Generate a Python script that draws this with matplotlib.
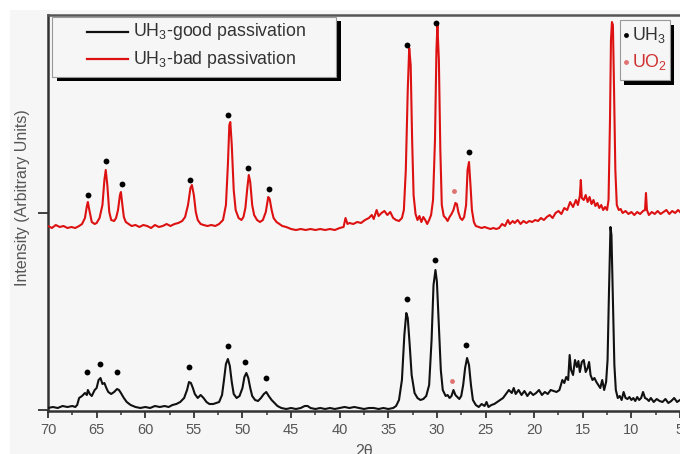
import matplotlib
matplotlib.use("Agg")
import matplotlib.pyplot as plt
from matplotlib.patches import Rectangle
from matplotlib.lines import Line2D
from matplotlib.ticker import MultipleLocator

plt.rcParams['font.family'] = ['Liberation Sans', 'DejaVu Sans']
plt.rcParams['mathtext.fontset'] = 'custom'
plt.rcParams['mathtext.rm'] = 'Liberation Sans'
plt.rcParams['mathtext.it'] = 'Liberation Sans:italic'
plt.rcParams['mathtext.bf'] = 'Liberation Sans:bold'

# ---------------- data (2theta, intensity in arbitrary units) ----------------
red_tt = [
    70.0, 69.6, 69.2, 68.8, 68.4, 68.0, 67.6, 67.2, 66.8, 66.5,
    66.2, 66.0, 65.9, 65.75, 65.5, 65.2, 65.0, 64.7, 64.4, 64.2,
    64.06, 63.9, 63.7, 63.5, 63.2, 63.0, 62.8, 62.6, 62.5, 62.35,
    62.2, 62.0, 61.7, 61.4, 61.0, 60.6, 60.2, 59.8, 59.4, 59.0,
    58.6, 58.2, 57.8, 57.4, 57.0, 56.6, 56.2, 55.9, 55.6, 55.35,
    55.2, 55.0, 54.8, 54.6, 54.3, 54.0, 53.6, 53.2, 52.8, 52.4,
    52.0, 51.7, 51.5, 51.35, 51.25, 51.1, 50.9, 50.7, 50.4, 50.1,
    49.9, 49.7, 49.5, 49.35, 49.2, 49.0, 48.8, 48.5, 48.2, 47.9,
    47.6, 47.35, 47.2, 47.0, 46.8, 46.5, 46.2, 45.9, 45.5, 45.0,
    44.5, 44.0, 43.5, 43.0, 42.5, 42.0, 41.5, 41.0, 40.5, 40.0,
    39.6, 39.4, 39.2, 39.0, 38.6, 38.2, 37.8, 37.4, 37.0, 36.7,
    36.5, 36.2, 36.0, 35.7, 35.4, 35.1, 34.8, 34.5, 34.2, 33.9,
    33.6, 33.4, 33.2, 33.0, 32.85, 32.7, 32.55, 32.4, 32.2, 32.0,
    31.8, 31.6, 31.4, 31.2, 31.0, 30.8, 30.6, 30.4, 30.2, 30.05,
    29.95, 29.8, 29.65, 29.5, 29.3, 29.1, 28.9, 28.7, 28.5, 28.3,
    28.1, 27.95, 27.8, 27.6, 27.4, 27.2, 27.0, 26.85, 26.7, 26.55,
    26.4, 26.2, 26.0, 25.7, 25.4, 25.1, 24.8, 24.5, 24.2, 23.9,
    23.6, 23.3, 23.0, 22.7, 22.5, 22.2, 22.0, 21.7, 21.4, 21.1,
    20.8, 20.5, 20.2, 19.9, 19.6, 19.3, 19.0, 18.7, 18.4, 18.1,
    17.8, 17.5, 17.2, 16.9, 16.6, 16.3, 16.0, 15.7, 15.5, 15.3,
    15.2, 15.1, 14.9, 14.7, 14.5, 14.3, 14.1, 13.9, 13.7, 13.5,
    13.3, 13.1, 12.9, 12.7, 12.5, 12.35, 12.2, 12.1, 12.0, 11.9,
    11.8, 11.65, 11.5, 11.3, 11.1, 10.9, 10.6, 10.3, 10.0, 9.7,
    9.4, 9.1, 8.8, 8.6, 8.5, 8.4, 8.2, 7.9, 7.6, 7.3,
    7.0, 6.7, 6.4, 6.1, 5.8, 5.5, 5.2, 5.0]
red_int = [
    184, 182, 185, 183, 184, 182, 183, 182, 184, 186,
    192, 204, 208, 200, 188, 186, 187, 192, 205, 230,
    240, 225, 198, 190, 189, 192, 200, 215, 218, 205,
    193, 188, 186, 184, 185, 183, 185, 184, 182, 185,
    183, 184, 186, 184, 186, 187, 189, 193, 205, 222,
    225, 215, 198, 190, 186, 185, 184, 185, 184, 186,
    190, 205, 245, 285, 288, 265, 220, 200, 192, 190,
    193, 202, 222, 235, 228, 205, 195, 190, 188, 190,
    198, 213, 211, 200, 192, 188, 186, 184, 183, 181,
    180, 181, 180, 181, 180, 181, 180, 181, 180, 182,
    183, 192, 186, 187, 186, 188, 187, 190, 192, 195,
    191, 200, 194, 197, 199, 195, 198, 192, 190, 189,
    192, 200, 240, 320, 362, 345, 270, 215, 196, 190,
    194, 188, 193, 190, 186, 190, 195, 210, 270, 360,
    385, 350, 260, 205, 194, 192, 189, 193, 196, 200,
    207, 206, 198, 192, 190, 193, 205, 240, 248, 225,
    200, 188, 184, 183, 182, 183, 182, 181, 182, 181,
    182, 186, 184, 190, 186, 189, 187, 190, 186, 189,
    187, 189, 188, 190, 189, 192, 190, 193, 195, 192,
    197, 199, 196, 202, 200, 208, 203, 210, 205, 214,
    230, 212, 210, 215, 208, 213, 206, 210, 204, 207,
    202, 205, 200, 203, 200, 210, 290, 370, 388, 385,
    330, 240, 205, 200, 201, 197, 199, 196, 198, 195,
    198, 196, 199, 200, 217, 200, 195, 198, 196, 199,
    196, 198, 200, 196, 199, 197, 200, 198]

blk_tt = [
    70.0, 69.5, 69.0, 68.5, 68.0, 67.5, 67.2, 67.0, 66.8, 66.5,
    66.2, 66.0, 65.9, 65.7, 65.5, 65.2, 65.0, 64.8, 64.6, 64.4,
    64.2, 64.0, 63.8, 63.5, 63.2, 62.9, 62.7, 62.5, 62.2, 61.9,
    61.5, 61.0, 60.5, 60.0, 59.5, 59.0, 58.5, 58.0, 57.6, 57.2,
    56.8, 56.4, 56.0, 55.7, 55.5, 55.3, 55.1, 54.9, 54.6, 54.3,
    54.0, 53.7, 53.4, 53.0, 52.7, 52.4, 52.1, 51.9, 51.7, 51.5,
    51.3, 51.1, 50.9, 50.6, 50.3, 50.0, 49.8, 49.6, 49.4, 49.2,
    49.0, 48.7, 48.4, 48.1, 47.8, 47.55, 47.3, 47.0, 46.7, 46.4,
    46.0, 45.5, 45.0, 44.5, 44.0, 43.6, 43.3, 43.0, 42.5, 42.0,
    41.5, 41.0, 40.5, 40.0, 39.5, 39.0, 38.5, 38.0, 37.5, 37.0,
    36.5, 36.0, 35.5, 35.0, 34.5, 34.2, 33.9, 33.6, 33.35, 33.15,
    33.0, 32.8, 32.6, 32.3, 32.0, 31.7, 31.4, 31.1, 30.8, 30.55,
    30.35, 30.15, 30.0, 29.8, 29.6, 29.4, 29.1, 28.9, 28.7, 28.5,
    28.3, 28.1, 27.9, 27.7, 27.5, 27.3, 27.1, 26.9, 26.7, 26.5,
    26.3, 26.0, 25.7, 25.4, 25.1, 24.9, 24.7, 24.4, 24.1, 23.8,
    23.5, 23.2, 22.9, 22.6, 22.3, 22.1, 21.9, 21.6, 21.3, 21.0,
    20.7, 20.4, 20.1, 19.8, 19.5, 19.2, 18.9, 18.6, 18.3, 18.0,
    17.7, 17.4, 17.1, 16.9, 16.7, 16.5, 16.35, 16.2, 16.0, 15.8,
    15.6, 15.45, 15.3, 15.1, 14.9, 14.7, 14.5, 14.35, 14.2, 14.0,
    13.8, 13.6, 13.4, 13.2, 13.0, 12.8, 12.6, 12.45, 12.3, 12.15,
    12.05, 11.9, 11.75, 11.6, 11.4, 11.2, 11.0, 10.8, 10.6, 10.4,
    10.2, 10.0, 9.8, 9.6, 9.4, 9.2, 9.0, 8.8, 8.6, 8.4,
    8.2, 8.0, 7.7, 7.4, 7.1, 6.8, 6.5, 6.2, 5.9, 5.6,
    5.3, 5.0]
blk_int = [
    2, 3, 2, 4, 3, 4, 3, 5, 12, 14,
    17, 15, 20, 16, 14, 20, 22, 30, 32, 26,
    27, 22, 18, 16, 18, 21, 20, 17, 12, 8,
    5, 3, 2, 3, 2, 4, 3, 4, 3, 5,
    6, 8, 12, 20, 28, 27, 22, 16, 12, 15,
    12, 8, 6, 6, 7, 8, 15, 30, 46, 51,
    44, 28, 16, 12, 14, 22, 33, 37, 32, 22,
    14, 10, 9, 12, 16, 18, 14, 10, 7, 4,
    2, 1, 2, 1, 2, 4, 4, 2, 1, 2,
    1, 2, 1, 2, 3, 2, 3, 2, 1, 2,
    2, 1, 2, 1, 2, 4, 10, 30, 75, 97,
    92, 65, 35, 17, 12, 10, 11, 14, 25, 70,
    125, 140, 128, 85, 40, 20, 14, 15, 12, 14,
    20, 15, 13, 11, 14, 25, 42, 52, 45, 25,
    10, 5, 3, 6, 4, 8, 3, 5, 6, 8,
    10, 12, 16, 20, 17, 22, 16, 20, 15, 19,
    14, 18, 15, 17, 20, 15, 18, 16, 20, 19,
    18, 20, 30, 27, 33, 30, 55, 40, 35, 50,
    43, 49, 38, 48, 50, 38, 42, 48, 35, 30,
    32, 28, 25, 22, 30, 20, 28, 50, 120, 183,
    175, 110, 45, 20, 12, 14, 10, 18, 12, 11,
    13, 10, 12, 9, 13, 10, 12, 18, 12, 11,
    9, 12, 8, 11, 9, 8, 11, 7, 9, 12,
    8, 10]

# peak markers (UH3 = black dots, UO2 = pink dots)
uh3_red_tt = [65.85, 64.03, 62.4, 55.4, 51.45, 49.4, 47.26, 33.07, 30.1, 26.7]
uh3_red_int = [215, 249, 226, 230, 295, 242, 221, 365, 387, 258]
uh3_blk_tt = [66.0, 64.65, 62.9, 55.5, 51.5, 49.7, 47.6, 33.1, 30.2, 27.0]
uh3_blk_int = [38, 46, 38, 43, 64, 48, 32, 111, 150, 65]
uo2_tt = [28.2, 28.5]
uo2_int = [219, 29]

series_labels = ['UH$_3$-good passivation', 'UH$_3$-bad passivation']
phase_labels = ['UH$_3$', 'UO$_2$']
x_ticks = [70, 65, 60, 55, 50, 45, 40, 35, 30, 25, 20, 15, 10, 5]

# ---------------- figure ----------------
W, H = 680, 454
fig = plt.figure(figsize=(W / 100, H / 100), dpi=100, facecolor='white')
BG = '#f6f6f6'
fig.patches.append(Rectangle((10 / W, 0), 1, 1 - 10 / H, transform=fig.transFigure,
                             facecolor=BG, edgecolor='none', zorder=-10))

def fx(px):
    return px / W

def fy(py):
    return 1 - py / H

ax = fig.add_axes([fx(48), fy(411), (W - 48) / W, (411 - 15) / H])
ax.set_facecolor(BG)

RED = '#dd1111'
BLK = '#111111'
PINK = '#e07272'

ax.plot(blk_tt, blk_int, color=BLK, lw=1.5, zorder=3)
ax.plot(red_tt, red_int, color=RED, lw=1.5, zorder=3)
ax.plot(uh3_red_tt, uh3_red_int, 'o', color='black', ms=4.2, mec='none', zorder=4)
ax.plot(uh3_blk_tt, uh3_blk_int, 'o', color='black', ms=4.2, mec='none', zorder=4)
ax.plot(uo2_tt, uo2_int, 'o', color=PINK, ms=3.5, mec='none', zorder=4)

ax.set_xlim(70, 5)
ax.set_ylim(-1, 395)
ax.set_xticks(x_ticks)
ax.xaxis.set_minor_locator(MultipleLocator(2.5))
ax.set_yticks([0, 197])
ax.set_yticklabels([])

for s in ['left', 'bottom', 'top']:
    ax.spines[s].set_linewidth(1.8)
    ax.spines[s].set_color('#333333')
ax.spines['top'].set_color('#555555')
ax.spines['right'].set_visible(False)

ax.tick_params(axis='both', which='major', direction='out', length=5, width=1.3,
               colors='#333333', labelsize=10.5, labelcolor='#555555', pad=4)
ax.tick_params(axis='x', which='minor', direction='out', length=3, width=1.1, colors='#333333')
ax.tick_params(axis='y', which='major', length=7)

ax.set_xlabel('2θ', fontsize=11.5, color='#555555', labelpad=5)
fig.text(fx(23), fy(198), 'Intensity (Arbitrary Units)', rotation=90, fontsize=11.5,
         color='#555555', ha='center', va='center')

# ---------------- legend 1 ----------------
def box(x0, y0, x1, y1, sx, sy):
    fig.patches.append(Rectangle((fx(x0 + sx), fy(y1 + sy)), fx(x1 - x0), (y1 - y0) / H,
                                 transform=fig.transFigure, facecolor='black',
                                 edgecolor='none', zorder=5))
    fig.patches.append(Rectangle((fx(x0), fy(y1)), fx(x1 - x0), (y1 - y0) / H,
                                 transform=fig.transFigure, facecolor=BG,
                                 edgecolor='#999999', lw=0.8, zorder=6))

box(52, 17, 336, 77, 5, 4)
for yy, col, lab in [(32, BLK, series_labels[0]), (59, RED, series_labels[1])]:
    fig.lines.append(Line2D([fx(87), fx(128)], [fy(yy), fy(yy)], transform=fig.transFigure,
                            color=col, lw=1.6, zorder=7))
    fig.text(fx(133), fy(yy), lab, fontsize=12.8, color='#333333', va='center',
             ha='left', zorder=8)

# ---------------- legend 2 ----------------
box(620, 20, 670, 80, 4, 5)
for yy, col, tcol, lab in [(35, 'black', '#333333', phase_labels[0]),
                           (62, PINK, '#d03030', phase_labels[1])]:
    fig.lines.append(Line2D([fx(626)], [fy(yy)], transform=fig.transFigure, marker='o',
                            ms=3.5, color=col, mec='none', ls='none', zorder=7))
    fig.text(fx(632), fy(yy), lab, fontsize=12.8, color=tcol, va='center', ha='left', zorder=8)

fig.savefig('out.png', dpi=100, facecolor='white')
